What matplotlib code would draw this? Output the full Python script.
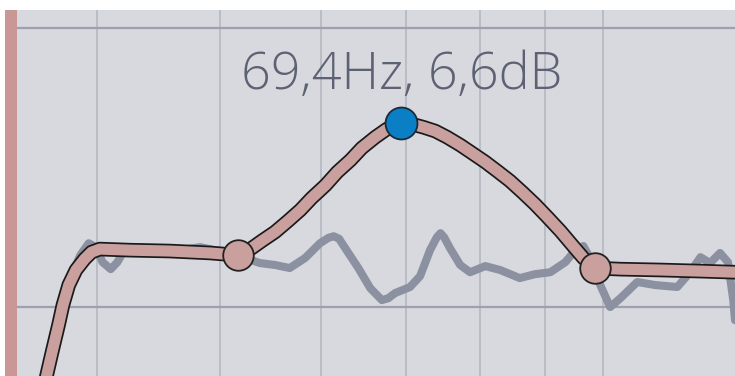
import matplotlib
matplotlib.use("Agg")
import matplotlib.pyplot as plt
from matplotlib.patches import Rectangle

# EQ response curve (Hz, dB)
eq_freq = [36.3, 36.5, 36.9, 37.3, 37.6, 38.0, 38.5, 39.1, 39.6, 40.2, 42.5, 45.6, 49.1,
           51.6, 52.8, 53.9, 55.2, 56.5, 57.8, 59.0, 60.5, 61.8, 63.3, 64.6, 66.2, 67.6,
           69.4, 70.7, 72.2, 73.8, 75.4, 77.2, 78.9, 80.8, 82.6, 84.5, 86.4, 88.4,
           90.4, 92.6, 94.6, 96.5, 97.7, 98.6, 103.2, 110.9, 119.3, 127.0]
eq_db = [-3.0, -2.47, -1.54, -0.65, 0.07, 0.79, 1.33, 1.72, 1.97, 2.08, 2.04, 2.01, 1.94,
         1.86, 2.08, 2.37, 2.69, 3.08, 3.48, 3.91, 4.37, 4.84, 5.27, 5.70, 6.09, 6.38,
         6.6, 6.56, 6.45, 6.31, 6.09, 5.81, 5.52, 5.20, 4.87, 4.52, 4.12, 3.69,
         3.23, 2.72, 2.22, 1.76, 1.54, 1.40, 1.36, 1.33, 1.29, 1.25]

# measured response (gray)
meas_freq = [36.6, 37.1, 37.6, 38.2, 38.8, 39.4, 39.9, 40.4, 41.0, 41.5, 42.0, 42.8, 44.8,
             46.5, 48.2, 49.5, 51.6, 53.7, 55.2, 56.7, 58.3, 59.9, 60.8, 61.4, 62.0, 62.7,
             64.2, 65.6, 67.0, 67.8, 68.6, 70.5, 71.8, 73.1, 74.0, 74.5, 75.0, 75.8,
             77.2, 78.6, 80.8, 83.0, 86.0, 88.4, 90.9, 93.4, 95.1, 96.5, 98.1, 99.5,
             101.3, 103.2, 106.4, 109.9, 114.4, 117.1, 119.3, 121.4, 123.6, 125.4,
             126.6, 127.0]
meas_db = [-2.47, -1.18, 0.07, 1.15, 1.86, 2.29, 2.15, 1.61, 1.36, 1.61, 2.04, 2.15, 2.08,
           2.04, 2.15, 2.04, 1.86, 1.58, 1.51, 1.40, 1.76, 2.29, 2.48, 2.54, 2.45, 2.11,
           1.40, 0.68, 0.25, 0.32, 0.50, 0.72, 1.11, 2.04, 2.50, 2.65, 2.50, 2.11,
           1.51, 1.25, 1.47, 1.33, 1.04, 1.18, 1.25, 1.61, 2.04, 2.19, 1.61, 0.79,
           0.0, 0.32, 0.90, 0.79, 0.72, 1.25, 1.79, 1.58, 1.94, 1.61,
           0.25, -0.47]

# band nodes
node_freq = [51.6, 98.6]
node_db = [1.86, 1.40]
peak_freq = 69.4
peak_db = 6.6
peak_label = "69,4Hz, 6,6dB"

grid_freqs = [40, 50, 60, 70, 80, 90, 100]
grid_dbs = [0, 10]

fig = plt.figure(figsize=(7.35, 3.76), dpi=100)
ax = fig.add_axes([17 / 735, 0, 718 / 735, 366 / 376])
ax.set_facecolor("#d8d9de")
ax.set_xscale("log")
ax.set_xlim(34.6, 127.0)
ax.set_ylim(-2.47, 10.65)
for s in ax.spines.values():
    s.set_visible(False)
ax.set_xticks([])
ax.set_yticks([])
ax.minorticks_off()

for f in grid_freqs:
    ax.axvline(f, color="#b4b8c2", lw=1.2, zorder=1)
for d in grid_dbs:
    ax.axhline(d, color="#9ca1ad", lw=1.6, zorder=1)

ax.plot(meas_freq, meas_db, color="#8b91a0", lw=5.8, solid_capstyle="round",
        solid_joinstyle="round", zorder=2)
ax.plot(eq_freq, eq_db, color="#1a1a1a", lw=10.5, solid_capstyle="round",
        solid_joinstyle="round", zorder=3)
ax.plot(eq_freq, eq_db, color="#c9a09e", lw=8, solid_capstyle="round",
        solid_joinstyle="round", zorder=4)
ax.plot(node_freq, node_db, "o", ms=22, mfc="#c9a09e", mec="#222222", mew=1.3, zorder=5)
ax.plot([peak_freq], [peak_db], "o", ms=23, mfc="#0a7fc6", mec="#1a2a3a", mew=1.3, zorder=6)

ax.text(peak_freq, 8.3, peak_label, ha="center", va="center", fontsize=37.5,
        family="Open Sans", fontweight="light", color="#5c6273", zorder=7)

# pink bar on the left edge
fig.patches.append(Rectangle((5 / 735, 0), 12 / 735, 366 / 376, transform=fig.transFigure,
                             facecolor="#c99896", edgecolor="none"))

fig.savefig("out.png", dpi=100)
